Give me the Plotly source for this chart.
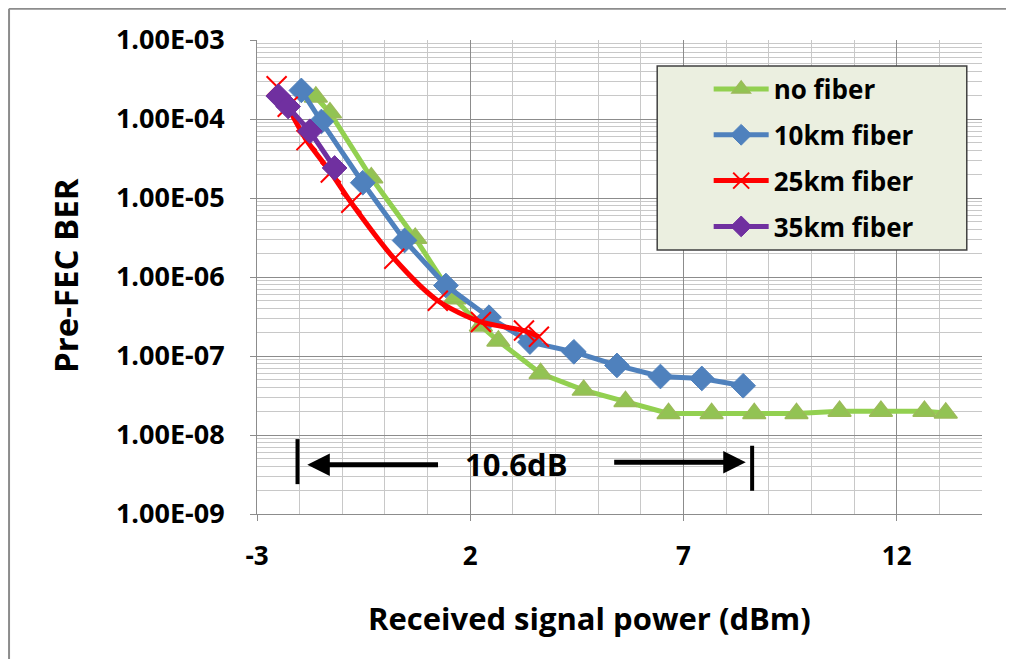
import plotly.graph_objects as go

# ---- data ----
x_nofiber = [-1.62, -1.29, -0.32, 0.71, 1.63, 2.25, 2.66, 3.65, 4.66, 5.64, 6.65, 7.66, 8.66, 9.65, 10.66, 11.63, 12.65, 13.15]
y_nofiber = [1.9e-4, 1.2e-4, 1.8e-5, 3.1e-6, 5.3e-7, 2.4e-7, 1.55e-7, 6.0e-8, 3.7e-8, 2.65e-8, 1.87e-8, 1.87e-8, 1.87e-8, 1.87e-8, 2.0e-8, 2.0e-8, 2.0e-8, 1.9e-8]

x_10km = [-1.96, -1.49, -0.52, 0.46, 1.43, 2.44, 3.40, 4.43, 5.44, 6.46, 7.43, 8.40]
y_10km = [2.3e-4, 9.3e-5, 1.56e-5, 2.9e-6, 7.8e-7, 3.1e-7, 1.5e-7, 1.13e-7, 7.6e-8, 5.5e-8, 5.2e-8, 4.2e-8]

x_25km = [-2.54, -2.28, -1.84, -1.27, -0.79, 0.22, 1.24, 2.25, 3.26, 3.61]
y_25km = [2.6e-4, 1.43e-4, 5.4e-5, 2.1e-5, 8.7e-6, 1.7e-6, 5.0e-7, 2.7e-7, 2.1e-7, 1.75e-7]

x_35km = [-2.5, -2.27, -1.76, -1.18]
y_35km = [1.95e-4, 1.44e-4, 7.0e-5, 2.4e-5]

series_names = ["no fiber", "10km fiber", "25km fiber", "35km fiber"]

y_tickvals = [1e-9, 1e-8, 1e-7, 1e-6, 1e-5, 1e-4, 1e-3]
y_ticktext = ["1.00E-09", "1.00E-08", "1.00E-07", "1.00E-06", "1.00E-05", "1.00E-04", "1.00E-03"]
x_tickvals = [-3, 2, 7, 12]
x_ticktext = ["-3", "2", "7", "12"]

FONT = "Open Sans"

fig = go.Figure()

fig.add_trace(go.Scatter(
    x=x_nofiber, y=y_nofiber, name=series_names[0], mode="lines+markers", legendgroup="a",
    line=dict(color="#92D050", width=5),
    marker=dict(symbol="triangle-up", size=20, color="#92C353", line=dict(color="#9BBB59", width=1.5)),
))
fig.add_trace(go.Scatter(
    x=x_10km, y=y_10km, name=series_names[1], mode="lines+markers", legendgroup="b",
    line=dict(color="#4F81BD", width=5),
    marker=dict(symbol="diamond", size=19, color="#4F81BD", line=dict(color="#4F81BD", width=1)),
))
fig.add_trace(go.Scatter(
    x=x_25km, y=y_25km, name=series_names[2], mode="lines+markers", legendgroup="c",
    line=dict(color="#FF0000", width=5, shape="spline", smoothing=0.8),
    marker=dict(symbol="x-thin", size=20, color="#FF0000", line=dict(color="#FF0000", width=2)),
))
fig.add_trace(go.Scatter(
    x=x_35km, y=y_35km, name=series_names[3], mode="lines+markers", legendgroup="d",
    line=dict(color="#7030A0", width=5),
    marker=dict(symbol="diamond", size=19, color="#7030A0", line=dict(color="#7030A0", width=1)),
))

MAJOR = "#8C8C8C"
MINOR = "#C8C8C8"

fig.update_xaxes(
    range=[-3, 14], tickmode="array", tickvals=x_tickvals, ticktext=x_ticktext,
    showgrid=True, gridcolor=MAJOR, gridwidth=1,
    minor=dict(tick0=-3, dtick=1, showgrid=True, gridcolor=MINOR, gridwidth=1, ticks=""),
    showline=True, linecolor=MAJOR, linewidth=1, zeroline=False,
    ticks="outside", ticklen=6, tickcolor=MAJOR,
    tickfont=dict(family=FONT, size=26, color="black", weight="bold"),
    ticklabelstandoff=13,
)
fig.update_yaxes(
    type="log", range=[-9, -3], tickmode="array", tickvals=y_tickvals, ticktext=y_ticktext,
    showgrid=True, gridcolor=MAJOR, gridwidth=1,
    minor=dict(dtick="D1", showgrid=True, gridcolor=MINOR, gridwidth=1, ticks=""),
    showline=True, linecolor=MAJOR, linewidth=1, zeroline=False,
    ticks="outside", ticklen=6, tickcolor=MAJOR,
    tickfont=dict(family=FONT, size=27, color="black", weight="bold"),
    ticklabelstandoff=20,
)

shapes = [
    # legend box
    dict(type="rect", xref="paper", yref="paper", x0=0.552, x1=0.979, y0=0.557, y1=0.945,
         fillcolor="#EBEFE0", line=dict(color="#404040", width=1.5), layer="above"),
    # 10.6 dB bracket bars
    dict(type="line", xref="x", yref="paper", x0=-2.05, x1=-2.05, y0=0.063, y1=0.158,
         line=dict(color="black", width=4)),
    dict(type="line", xref="x", yref="paper", x0=8.61, x1=8.61, y0=0.049, y1=0.144,
         line=dict(color="black", width=4)),
    # outer chart frame (left and top edges visible)
    dict(type="line", xref="paper", yref="paper", x0=-0.342, x1=-0.342, y0=-0.31, y1=1.066,
         line=dict(color="#8C8C8C", width=2)),
    dict(type="line", xref="paper", yref="paper", x0=-0.342, x1=1.05, y0=1.066, y1=1.066,
         line=dict(color="#8C8C8C", width=2)),
]

annotations = [
    dict(text="10.6dB", x=3.07, y=-8.37, xref="x", yref="y", showarrow=False,
         font=dict(family=FONT, size=31, color="black", weight="bold")),
    dict(text="", x=-1.82, y=-8.378, ax=1.28, ay=-8.378, xref="x", yref="y", axref="x", ayref="y",
         showarrow=True, arrowhead=2, arrowsize=0.9, arrowwidth=5, arrowcolor="black"),
    dict(text="", x=8.46, y=-8.345, ax=5.34, ay=-8.345, xref="x", yref="y", axref="x", ayref="y",
         showarrow=True, arrowhead=2, arrowsize=0.9, arrowwidth=5, arrowcolor="black"),
    dict(text="Received signal power (dBm)", x=0.459, y=-0.219, xref="paper", yref="paper",
         showarrow=False, xanchor="center", yanchor="middle",
         font=dict(family=FONT, size=31, color="black", weight="bold")),
    dict(text="Pre-FEC BER", x=-0.265, y=0.504, xref="paper", yref="paper", textangle=-90,
         showarrow=False, xanchor="center", yanchor="middle",
         font=dict(family=FONT, size=33, color="black", weight="bold")),
]

fig.update_layout(
    width=1006, height=651,
    margin=dict(l=249, r=32, t=32, b=145),
    paper_bgcolor="white", plot_bgcolor="white",
    shapes=shapes, annotations=annotations,
    showlegend=True,
    legend=dict(
        x=0.623, y=0.946, xanchor="left", yanchor="top",
        bgcolor="rgba(0,0,0,0)", borderwidth=0,
        font=dict(family=FONT, size=26, color="black", weight="bold"),
        itemwidth=55, tracegroupgap=9, traceorder="grouped",
    ),
)

fig.write_html("out.html")
